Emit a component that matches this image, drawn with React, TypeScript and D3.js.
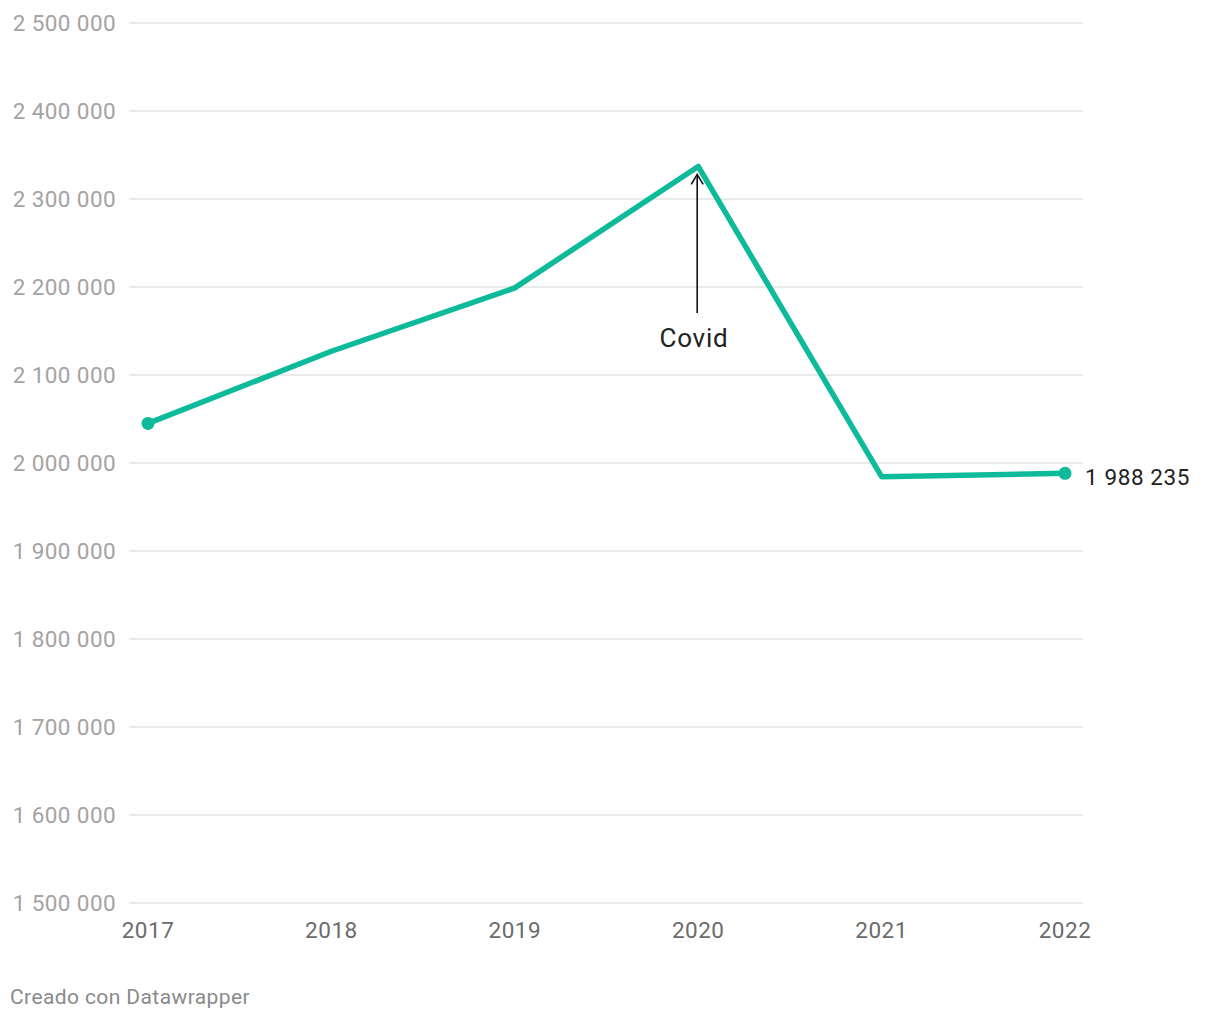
import React from "react";
import * as d3 from "d3";

const years = [2017, 2018, 2019, 2020, 2021, 2022];
const values = [2045000, 2127000, 2199000, 2337000, 1984500, 1988235];
const yTicks = [1500000, 1600000, 1700000, 1800000, 1900000, 2000000, 2100000, 2200000, 2300000, 2400000, 2500000];
const annotationYear = 2020;
const annotationText = "Covid";
const footerText = "Creado con Datawrapper";

const W = 1220;
const H = 1020;
const FONT = "Roboto, 'Noto Sans', sans-serif";
const LINE_COLOR = "#0dbb9b";

const fmt = (v: number) => d3.format(",")(v).replace(/,/g, " ");

export default function App() {
  const x = d3.scalePoint<number>().domain(years).range([148, 1065]);
  const y = d3.scaleLinear().domain([1500000, 2500000]).range([903, 23]);
  const line = d3
    .line<number>()
    .x((_, i) => x(years[i]) as number)
    .y((d) => y(d));

  const lastI = years.length - 1;
  const ax = x(annotationYear) as number;
  const ay = y(values[years.indexOf(annotationYear)]);

  return (
    <svg
      width={W}
      height={H}
      style={{ position: "absolute", left: 0, top: 0, background: "#fff" }}
      fontFamily={FONT}
    >
      {yTicks.map((t) => (
        <g key={t}>
          <line x1={129} x2={1083} y1={y(t)} y2={y(t)} stroke="#e3e3e3" strokeWidth={1.5} />
          <text x={116} y={y(t)} dy="0.36em" textAnchor="end" fontSize={22.5} letterSpacing={0.4} fill="#a3a3a3">
            {fmt(t)}
          </text>
        </g>
      ))}
      {years.map((yr) => (
        <text key={yr} x={x(yr) as number} y={938} textAnchor="middle" fontSize={22.5} letterSpacing={0.5} fill="#6b6b6b">
          {yr}
        </text>
      ))}
      <path
        d={line(values) || ""}
        fill="none"
        stroke={LINE_COLOR}
        strokeWidth={5.5}
        strokeLinejoin="round"
        strokeLinecap="round"
      />
      <circle cx={x(years[0]) as number} cy={y(values[0])} r={6.5} fill={LINE_COLOR} />
      <circle cx={x(years[lastI]) as number} cy={y(values[lastI])} r={6.5} fill={LINE_COLOR} />
      <text x={(x(years[lastI]) as number) + 20} y={y(values[lastI])} dy="0.5em" fontSize={22.5} letterSpacing={0.6} fill="#222">
        {fmt(values[lastI])}
      </text>
      <g stroke="#111" strokeWidth={1.6} fill="none">
        <line x1={ax - 1} x2={ax - 1} y1={313} y2={ay + 8} />
        <polyline points={`${ax - 7},${ay + 18} ${ax - 1},${ay + 8} ${ax + 5},${ay + 18}`} />
      </g>
      <text x={694} y={347} textAnchor="middle" fontSize={26} letterSpacing={0.8} fill="#222">
        {annotationText}
      </text>
      <text x={10} y={1004} fontSize={21} letterSpacing={0.4} fill="#8a8a8a">
        {footerText}
      </text>
    </svg>
  );
}
